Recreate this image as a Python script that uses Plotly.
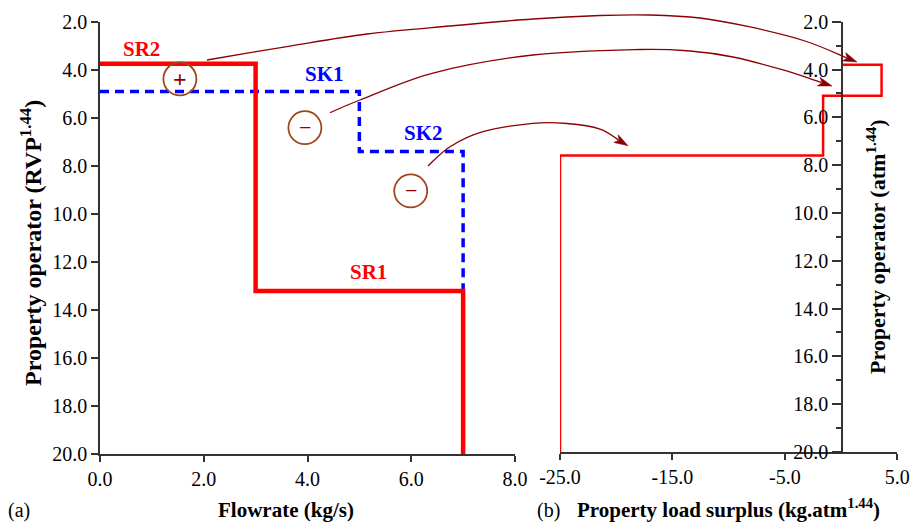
import plotly.graph_objects as go

# ---------------- data ----------------
source_names = ["SR2", "SR1"]
source_flow = [3.0, 4.0]          # kg/s
source_op = [3.75, 13.2]          # RVP^1.44
sink_names = ["SK1", "SK2"]
sink_flow = [5.0, 2.0]            # kg/s
sink_op = [4.9, 7.4]              # RVP^1.44

surplus_op = [3.8, 5.1, 7.6, 20.0]      # property operator levels (atm^1.44)
surplus_load = [3.6, -1.6, -25.0]       # cumulative surplus between levels

label_pos = {"SR2": (0.80, 3.15), "SK1": (4.32, 4.18), "SK2": (6.23, 6.63), "SR1": (5.17, 12.4)}
sign_x = [1.54, 3.95, 5.99]
sign_y = [4.38, 6.41, 9.04]
sign_txt = ["+", "\u2212", "\u2212"]

y_ticks = [2, 4, 6, 8, 10, 12, 14, 16, 18, 20]
x1_ticks = [0, 2, 4, 6, 8]
x2_ticks = [-25, -15, -5, 5]
x2_ticktext = ["-25.0", "-15.0", "-5.0", "5.0"]
Y_BOTTOM = 20.0

# ---------------- geometry ----------------
W, H = 912, 523
def px(x): return x / W
def py(y): return 1 - y / H

FONT = "Liberation Serif"
RED = "#FF0000"
BLUE = "#0000FF"
DARKRED = "#8B0000"
CIRC = "#A0461E"

# composite curves from data
def source_curve():
    xs, ys = [0.0], [source_op[0]]
    cum = 0.0
    for i, f in enumerate(source_flow):
        cum += f
        xs.append(cum); ys.append(source_op[i])
        nxt = source_op[i + 1] if i + 1 < len(source_op) else Y_BOTTOM
        xs.append(cum); ys.append(nxt)
    return xs, ys

def sink_curve():
    xs, ys = [0.0], [sink_op[0]]
    cum = 0.0
    for i, f in enumerate(sink_flow):
        cum += f
        xs.append(cum); ys.append(sink_op[i])
        nxt = sink_op[i + 1] if i + 1 < len(sink_op) else source_op[-1]
        xs.append(cum); ys.append(nxt)
    return xs, ys

def surplus_curve():
    xs, ys = [0.0], [surplus_op[0]]
    for i, v in enumerate(surplus_load):
        xs.append(v); ys.append(surplus_op[i])
        xs.append(v); ys.append(surplus_op[i + 1])
    return xs, ys

sx, sy = source_curve()
kx, ky = sink_curve()
ux, uy = surplus_curve()

fig = go.Figure()
fig.add_trace(go.Scatter(x=kx, y=ky, mode="lines", xaxis="x", yaxis="y",
                         line=dict(color=BLUE, width=3.5, dash="9px,6px"), hoverinfo="skip"))
fig.add_trace(go.Scatter(x=sx, y=sy, mode="lines", xaxis="x", yaxis="y",
                         line=dict(color=RED, width=4.5), hoverinfo="skip"))
fig.add_trace(go.Scatter(x=ux, y=uy, mode="lines", xaxis="x2", yaxis="y2",
                         line=dict(color=RED, width=2.5), hoverinfo="skip"))
fig.add_trace(go.Scatter(x=sign_x, y=sign_y, mode="markers", xaxis="x", yaxis="y",
                         marker=dict(symbol="circle-open", size=33, color=CIRC,
                                     line=dict(color=CIRC, width=1.8)), hoverinfo="skip"))

annotations = []
for name, (lx, ly) in label_pos.items():
    annotations.append(dict(x=lx, y=ly, xref="x", yref="y", text=name, showarrow=False,
                            font=dict(family=FONT, size=21, color=RED if name.startswith("SR") else BLUE,
                                      weight="bold")))
for x, y, t in zip(sign_x, sign_y, sign_txt):
    annotations.append(dict(x=x, y=y, xref="x", yref="y", text=t, showarrow=False,
                            font=dict(family=FONT, size=24 if t == "+" else 22, color=DARKRED,
                                      weight="bold" if t == "+" else "normal")))

def pa(xp, yp, text, size, bold=False, angle=0):
    annotations.append(dict(x=px(xp), y=py(yp), xref="paper", yref="paper", text=text,
                            showarrow=False, textangle=angle, xanchor="center", yanchor="middle",
                            font=dict(family=FONT, size=size, color="black",
                                      weight="bold" if bold else "normal")))

pa(19, 510, "(a)", 20)
pa(286, 510, "Flowrate (kg/s)", 21, True)
pa(548, 510, "(b)", 20)
pa(728, 508, "Property load surplus (kg.atm<sup>1.44</sup>)", 21, True)
pa(31, 243, "Property operator (RVP<sup>1.44</sup>)", 24, True, -90)
pa(876, 247, "Property operator (atm<sup>1.44</sup>)", 22, True, -90)

# curved callout arrows (pixel waypoints)
arrows = [
    [(207, 60), (290, 46), (367, 34), (450, 26), (533, 19), (600, 15.5), (650, 15), (700, 18),
     (750, 27), (805, 41), (857, 62)],
    [(330, 112.7), (360, 100), (433, 73), (533, 55), (640, 49.5), (690, 51), (733, 57),
     (783, 70), (832, 86)],
    [(428, 166), (450, 146.7), (483, 131.7), (533, 123.3), (567, 123.5), (600, 129), (628, 145.7)],
]

def cr_path(pts, head_len):
    (x1, y1), (x2, y2) = pts[-2], pts[-1]
    dx, dy = x2 - x1, y2 - y1
    L = (dx * dx + dy * dy) ** 0.5
    ux_, uy_ = dx / L, dy / L
    base = (x2 - ux_ * head_len * 0.8, y2 - uy_ * head_len * 0.8)
    p = pts[:-1] + [base]
    ext = [p[0]] + p + [p[-1]]
    s = "M%.4f,%.4f" % (px(p[0][0]), py(p[0][1]))
    for i in range(1, len(ext) - 2):
        p0, p1, p2, p3 = ext[i - 1], ext[i], ext[i + 1], ext[i + 2]
        c1 = (p1[0] + (p2[0] - p0[0]) / 6, p1[1] + (p2[1] - p0[1]) / 6)
        c2 = (p2[0] - (p3[0] - p1[0]) / 6, p2[1] - (p3[1] - p1[1]) / 6)
        s += " C%.4f,%.4f %.4f,%.4f %.4f,%.4f" % (px(c1[0]), py(c1[1]), px(c2[0]), py(c2[1]),
                                                   px(p2[0]), py(p2[1]))
    hl, hw = head_len, 4.5
    bx, by = x2 - ux_ * hl, y2 - uy_ * hl
    nx, ny = -uy_, ux_
    a = (bx + nx * hw, by + ny * hw)
    b = (bx - nx * hw, by - ny * hw)
    notch = (x2 - ux_ * hl * 0.75, y2 - uy_ * hl * 0.75)
    head = "M%.4f,%.4f L%.4f,%.4f L%.4f,%.4f L%.4f,%.4f Z" % (
        px(x2), py(y2), px(a[0]), py(a[1]), px(notch[0]), py(notch[1]), px(b[0]), py(b[1]))
    return s, head

shapes = []
for pts in arrows:
    s, head = cr_path(pts, 14)
    shapes.append(dict(type="path", xref="paper", yref="paper", path=s,
                       line=dict(color=DARKRED, width=1.3)))
    shapes.append(dict(type="path", xref="paper", yref="paper", path=head,
                       fillcolor=DARKRED, line=dict(color=DARKRED, width=0.5)))

tickfont = dict(family=FONT, size=20, color="black")
axis_common = dict(showgrid=False, zeroline=False, showline=True, linecolor="#333333", linewidth=1.5,
                   tickcolor="#333333", tickwidth=1.5, tickfont=tickfont, automargin=False)

fig.update_layout(
    width=W, height=H, template="none",
    paper_bgcolor="white", plot_bgcolor="rgba(0,0,0,0)",
    margin=dict(l=0, r=0, t=0, b=0), showlegend=False,
    font=dict(family=FONT),
    xaxis=dict(domain=[px(100), px(515)], range=[0, 8], tickvals=x1_ticks, tickformat=".1f",
               anchor="y", ticks="outside", ticklen=6, **axis_common),
    yaxis=dict(domain=[py(454.4), py(21.7)], range=[20, 2], tickvals=y_ticks, tickformat=".1f",
               anchor="x", ticks="outside", ticklen=7, **axis_common),
    xaxis2=dict(domain=[px(560), px(897.3)], range=[-25, 5], tickvals=x2_ticks, ticktext=x2_ticktext,
                anchor="y2", ticks="outside", ticklen=6, **axis_common),
    yaxis2=dict(domain=[py(452), py(21.7)], range=[20, 2], tickvals=y_ticks, tickformat=".1f",
                anchor="free", position=px(842), side="left", ticks="outside", ticklen=9,
                minor=dict(dtick=2, tick0=3, ticks="outside", ticklen=5, tickcolor="#333333", tickwidth=1.5),
                **axis_common),
    annotations=annotations, shapes=shapes,
)

fig.write_html("out.html", config={"displayModeBar": False},
               post_script="document.body.style.margin='0';document.body.style.overflow='hidden';")
